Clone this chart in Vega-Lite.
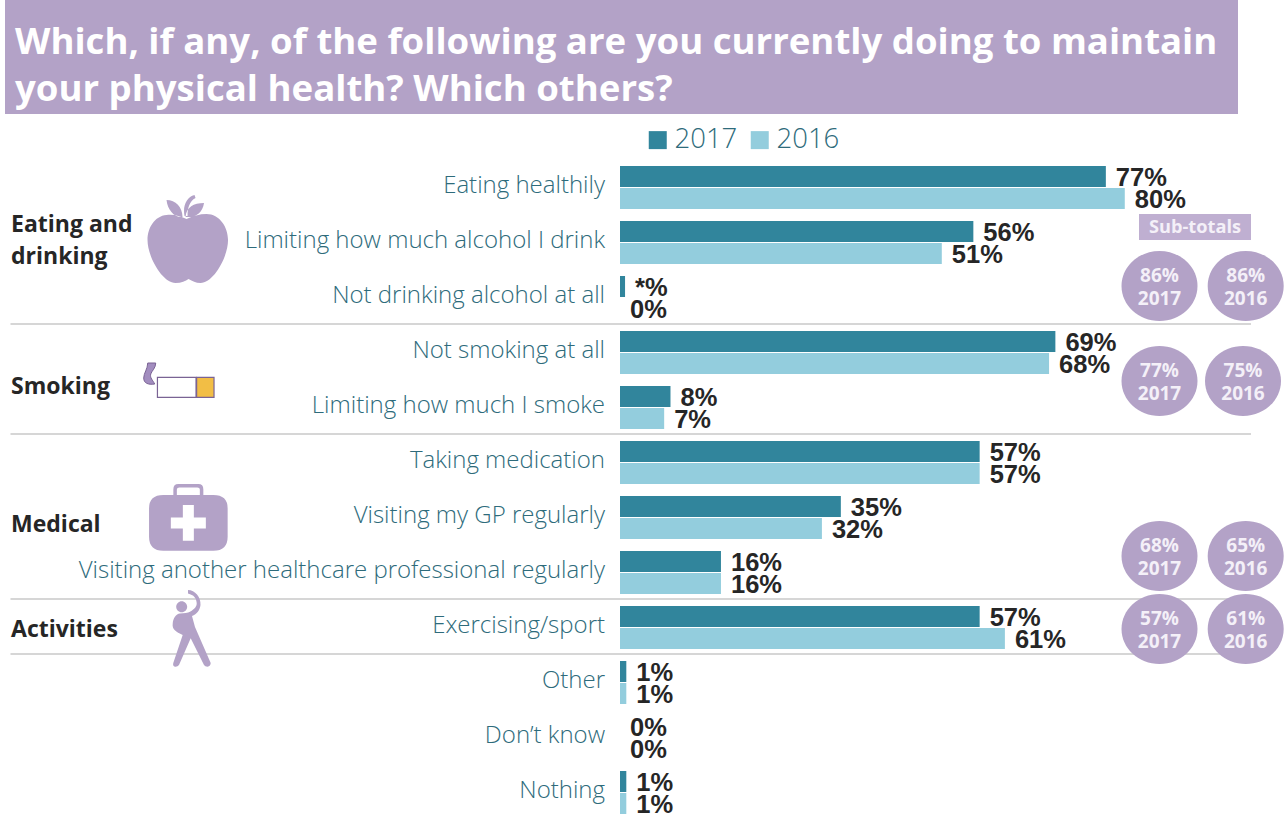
{
"$schema":"https://vega.github.io/schema/vega-lite/v6.json",
"width":1286,"height":817,"padding":0,"autosize":{"type":"none"},"background":"white",
"config":{"view":{"stroke":null},"axis":{"domain":false}},
"datasets":{
"answers":[
{"row":"Eating healthily","year":"2017","value":77,"label":"77%"},
{"row":"Eating healthily","year":"2016","value":80,"label":"80%"},
{"row":"Limiting how much alcohol I drink","year":"2017","value":56,"label":"56%"},
{"row":"Limiting how much alcohol I drink","year":"2016","value":51,"label":"51%"},
{"row":"Not drinking alcohol at all","year":"2017","value":0.8,"label":"*%"},
{"row":"Not drinking alcohol at all","year":"2016","value":0,"label":"0%"},
{"row":"Not smoking at all","year":"2017","value":69,"label":"69%"},
{"row":"Not smoking at all","year":"2016","value":68,"label":"68%"},
{"row":"Limiting how much I smoke","year":"2017","value":8,"label":"8%"},
{"row":"Limiting how much I smoke","year":"2016","value":7,"label":"7%"},
{"row":"Taking medication","year":"2017","value":57,"label":"57%"},
{"row":"Taking medication","year":"2016","value":57,"label":"57%"},
{"row":"Visiting my GP regularly","year":"2017","value":35,"label":"35%"},
{"row":"Visiting my GP regularly","year":"2016","value":32,"label":"32%"},
{"row":"Visiting another healthcare professional regularly","year":"2017","value":16,"label":"16%"},
{"row":"Visiting another healthcare professional regularly","year":"2016","value":16,"label":"16%"},
{"row":"Exercising/sport","year":"2017","value":57,"label":"57%"},
{"row":"Exercising/sport","year":"2016","value":61,"label":"61%"},
{"row":"Other","year":"2017","value":1,"label":"1%"},
{"row":"Other","year":"2016","value":1,"label":"1%"},
{"row":"Don’t know","year":"2017","value":0,"label":"0%"},
{"row":"Don’t know","year":"2016","value":0,"label":"0%"},
{"row":"Nothing","year":"2017","value":1,"label":"1%"},
{"row":"Nothing","year":"2016","value":1,"label":"1%"}
],
"subtotals":[
{"group":"Eating and drinking","year":"2017","pct":"86%"},
{"group":"Eating and drinking","year":"2016","pct":"86%"},
{"group":"Smoking","year":"2017","pct":"77%"},
{"group":"Smoking","year":"2016","pct":"75%"},
{"group":"Medical","year":"2017","pct":"68%"},
{"group":"Medical","year":"2016","pct":"65%"},
{"group":"Activities","year":"2017","pct":"57%"},
{"group":"Activities","year":"2016","pct":"61%"}
]
},
"resolve":{"scale":{"x":"independent","y":"independent"}},
"layer":[
{"data":{"values":[{"block":"banner"}]},"mark":{"type":"rect","fill":"#B3A2C7"},
 "encoding":{
  "x":{"field":"block","type":"nominal","axis":null,"scale":{"type":"band","domain":["banner"],"range":[5,1238],"padding":0}},
  "y":{"field":"block","type":"nominal","axis":null,"scale":{"type":"band","domain":["banner"],"range":[0,114],"padding":0}}}},
{"data":{"values":[{"line":"Which, if any, of the following are you currently doing to maintain"},{"line":"your physical health? Which others?"}]},
 "mark":{"type":"text","align":"left","baseline":"middle","font":"Open Sans","fontWeight":"bold","fontSize":36.6,"fill":"white"},
 "encoding":{
  "x":{"datum":-95.88,"axis":null,"scale":{"domain":[-98.26,105.55],"range":[0,1286],"nice":false,"zero":false}},
  "y":{"field":"line","type":"nominal","axis":null,"sort":null,"scale":{"type":"band","domain":["Which, if any, of the following are you currently doing to maintain","your physical health? Which others?"],"range":[19,113],"padding":0}},
  "text":{"field":"line"}}},
{"encoding":{"x":{"axis":null},"y":{"axis":null}},
 "layer":[
 {"data":{"values":[{"row":"Not smoking at all"},{"row":"Taking medication"},{"row":"Exercising/sport"},{"row":"Other"}]},
  "mark":{"type":"rule","stroke":"#C9C9C9","strokeWidth":1.6,"yOffset":-1},
  "encoding":{
   "x":{"datum":-96.6,"axis":null,"scale":{"domain":[-98.26,105.55],"range":[0,1286],"nice":false,"zero":false}},
   "x2":{"datum":100},
   "y":{"field":"row","type":"nominal","axis":null,"bandPosition":0,"sort":null,"scale":{"type":"band","domain":["Eating healthily","Limiting how much alcohol I drink","Not drinking alcohol at all","Not smoking at all","Limiting how much I smoke","Taking medication","Visiting my GP regularly","Visiting another healthcare professional regularly","Exercising/sport","Other","Don’t know","Nothing"],"range":[160,820],"padding":0}}}},
 {"data":{"name":"answers"},"mark":{"type":"bar"},
  "encoding":{
   "x":{"field":"value","type":"quantitative","axis":null,"stack":null},
   "y":{"field":"row","type":"nominal","axis":null,"sort":null},
   "yOffset":{"field":"year","type":"nominal","sort":null,"scale":{"domain":["2017","2016"],"paddingInner":0.045,"paddingOuter":0.2725}},
   "color":{"field":"year","type":"nominal","scale":{"domain":["2017","2016"],"range":["#31859C","#93CDDD"]},
    "legend":{"title":null,"orient":"none","legendX":644,"legendY":126,"direction":"horizontal","symbolType":"square","symbolSize":324,"symbolStrokeWidth":0,"symbolOpacity":1,"labelFont":"Open Sans","labelFontWeight":300,"labelFontSize":27.5,"labelColor":"#2E6B7B","labelOffset":3,"columnPadding":8,"rowPadding":0,"padding":0}}}},
 {"data":{"name":"answers"},"mark":{"type":"text","align":"left","baseline":"middle","dx":10,"dy":1,"font":"Liberation Sans","fontWeight":"bold","fontSize":25.5,"fill":"#262626"},
  "encoding":{
   "x":{"field":"value","type":"quantitative","axis":null,"stack":null},
   "y":{"field":"row","type":"nominal","axis":null,"sort":null},
   "yOffset":{"field":"year","type":"nominal","sort":null,"scale":{"domain":["2017","2016"],"paddingInner":0.045,"paddingOuter":0.2725}},
   "text":{"field":"label"}}},
 {"data":{"name":"answers"},"transform":[{"filter":{"field":"year","equal":"2017"}}],
  "mark":{"type":"text","align":"right","baseline":"middle","dx":-15,"dy":-2,"font":"Open Sans","fontWeight":300,"fontSize":24,"fill":"#2E6B7B"},
  "encoding":{
   "x":{"datum":0,"axis":null},
   "y":{"field":"row","type":"nominal","axis":null,"sort":null},
   "text":{"field":"row"}}},
 {"data":{"values":[{"group":"Eating and|drinking"}]},"mark":{"type":"text","lineBreak":"|","lineHeight":32,"align":"left","baseline":"middle","font":"Open Sans","fontWeight":"bold","fontSize":23,"fill":"#262626"},
  "encoding":{"x":{"datum":-96.51,"axis":null},"y":{"datum":"Limiting how much alcohol I drink","bandPosition":0.18,"axis":null},"text":{"field":"group"}}},
 {"data":{"values":[{"group":"Smoking"}]},"mark":{"type":"text","align":"left","baseline":"middle","font":"Open Sans","fontWeight":"bold","fontSize":23,"fill":"#262626"},
  "encoding":{"x":{"datum":-96.51,"axis":null},"y":{"datum":"Limiting how much I smoke","bandPosition":0.127,"axis":null},"text":{"field":"group"}}},
 {"data":{"values":[{"group":"Medical"}]},"mark":{"type":"text","align":"left","baseline":"middle","font":"Open Sans","fontWeight":"bold","fontSize":23,"fill":"#262626"},
  "encoding":{"x":{"datum":-96.51,"axis":null},"y":{"datum":"Visiting my GP regularly","bandPosition":0.636,"axis":null},"text":{"field":"group"}}},
 {"data":{"values":[{"group":"Activities"}]},"mark":{"type":"text","align":"left","baseline":"middle","font":"Open Sans","fontWeight":"bold","fontSize":23,"fill":"#262626"},
  "encoding":{"x":{"datum":-96.51,"axis":null},"y":{"datum":"Exercising/sport","bandPosition":0.545,"axis":null},"text":{"field":"group"}}},
 {"data":{"values":[{"icon":"apple"}]},"mark":{"type":"point","filled":true,"opacity":1,"size":4,"fill":"#B3A2C7","strokeWidth":0,"shape":"M-1,-20 C-8,-23 -14,-25 -21,-24 C-33,-23 -40,-11 -40,1 C-40,18 -25,44 -12,44 C-6,44 -2,42 1,40 C5,42 8,44 13,44 C26,44 40.5,18 40.5,1 C40.5,-12 32,-25 19,-25 C12,-25 5,-23 -1,-20 Z M-21,-39 C-12,-39 -5,-32 -5,-22 C-13,-21 -20,-29 -21,-39 Z M16.5,-36 C6,-36 -1,-32 -2,-22 C8,-21 15,-26 16.5,-36 Z M-3,-23 C-5,-33 -1,-42 7,-44 L8,-41 C2,-38 0,-31 0,-23 Z"},
  "encoding":{"x":{"datum":-68.54,"axis":null},"y":{"datum":"Limiting how much alcohol I drink","bandPosition":0.436,"axis":null}}},
 {"data":{"values":[{"icon":"smoke"}]},"mark":{"type":"point","filled":true,"opacity":1,"size":4,"fill":"#A28DBF","stroke":"#7A6394","strokeWidth":1,"shape":"M6,-11 L-2,-11 C-2,-5 -6,-1 -6,4 C-6,9 -2,11 5,10 C3,6 0,4 1,0 C2,-3 6,-6 6,-11 Z"},
  "encoding":{"x":{"datum":-74.53,"axis":null},"y":{"datum":"Not smoking at all","bandPosition":0.891,"axis":null}}},
 {"data":{"values":[{"icon":"cigarette"}]},"mark":{"type":"point","filled":true,"opacity":1,"size":4,"fill":"#FFFFFF","stroke":"#7A6394","strokeWidth":1.2,"shape":"M-19.3,-10 L19.3,-10 L19.3,10 L-19.3,10 Z"},
  "encoding":{"x":{"datum":-70.25,"axis":null},"y":{"datum":"Limiting how much I smoke","bandPosition":0.133,"axis":null}}},
 {"data":{"values":[{"icon":"filter"}]},"mark":{"type":"point","filled":true,"opacity":1,"size":4,"fill":"#F2BE45","stroke":"#7A6394","strokeWidth":1.2,"shape":"M-8.7,-10 L8.7,-10 L8.7,10 L-8.7,10 Z"},
  "encoding":{"x":{"datum":-65.72,"axis":null},"y":{"datum":"Limiting how much I smoke","bandPosition":0.133,"axis":null}}},
 {"data":{"values":[{"icon":"kit"}]},"mark":{"type":"point","filled":true,"opacity":1,"size":4,"fill":"#B3A2C7","strokeWidth":0,"shape":"M-25,-22.4 L25,-22.4 Q39.3,-22.4 39.3,-9 L39.3,19.3 Q39.3,33.3 25,33.3 L-25,33.3 Q-39.3,33.3 -39.3,19.3 L-39.3,-9 Q-39.3,-22.4 -25,-22.4 Z M-15,-22.4 L-15,-28 Q-15,-33.4 -10,-33.4 L10,-33.4 Q15,-33.4 15,-28 L15,-22.4 L11.5,-22.4 L11.5,-28 Q11.5,-30 9,-30 L-9,-30 Q-11.5,-30 -11.5,-28 L-11.5,-22.4 Z"},
  "encoding":{"x":{"datum":-68.41,"axis":null},"y":{"datum":"Visiting my GP regularly","bandPosition":0.498,"axis":null}}},
 {"data":{"values":[{"icon":"cross"}]},"mark":{"type":"point","filled":true,"opacity":1,"size":4,"fill":"#FFFFFF","strokeWidth":0,"shape":"M-5.5,-17.8 L5.5,-17.8 L5.5,-5.5 L17.5,-5.5 L17.5,5.5 L5.5,5.5 L5.5,17.8 L-5.5,17.8 L-5.5,5.5 L-17.5,5.5 L-17.5,-5.5 L-5.5,-5.5 Z"},
  "encoding":{"x":{"datum":-68.41,"axis":null},"y":{"datum":"Visiting my GP regularly","bandPosition":0.598,"axis":null}}},
 {"data":{"values":[{"icon":"person"}]},"mark":{"type":"point","filled":true,"opacity":1,"size":4,"fill":"#B3A2C7","strokeWidth":0,"shape":"M-2,-38 C5,-38 11,-31 10.5,-23 C10,-18 7,-14 2,-12 L5,-1 L20.7,35 Q20.7,38 17.5,38.7 Q15,38.7 14,37 L0.7,10.3 L-11,37 Q-12.5,39 -15,38.7 Q-17.5,38 -16.7,35 L-7.3,7 C-14,4 -18,1 -17.3,-4 C-17,-10 -14,-14 -10,-14.5 C-6,-15 -2,-15 0,-16.3 C5,-19 7,-22 6.7,-25 C6.3,-30 4,-33 -2,-34.5 Z M-13.8,-21.3 C-13.8,-24.3 -11.3,-26.8 -8.3,-26.8 C-5.3,-26.8 -2.8,-24.3 -2.8,-21.3 C-2.8,-18.3 -5.3,-15.8 -8.3,-15.8 C-11.3,-15.8 -13.8,-18.3 -13.8,-21.3 Z"},
  "encoding":{"x":{"datum":-68.15,"axis":null},"y":{"datum":"Exercising/sport","bandPosition":0.509,"axis":null}}}
 ]},
{"data":{"values":[{"block":"Sub-totals"}]},
 "encoding":{
  "x":{"field":"block","type":"nominal","axis":null,"scale":{"type":"band","domain":["Sub-totals"],"range":[1139,1251],"padding":0}},
  "y":{"field":"block","type":"nominal","axis":null,"scale":{"type":"band","domain":["Sub-totals"],"range":[214,240],"padding":0}}},
 "layer":[
  {"mark":{"type":"rect","fill":"#BFAFD1"}},
  {"mark":{"type":"text","dy":1,"font":"Open Sans","fontWeight":"bold","fontSize":18.2,"fill":"#F4F0F8","baseline":"middle"},"encoding":{"text":{"field":"block"}}}
 ]},
{"data":{"name":"subtotals"},"transform":[{"filter":{"field":"group","equal":"Eating and drinking"}}],
 "encoding":{
  "x":{"field":"year","type":"nominal","axis":null,"sort":null,"scale":{"type":"point","domain":["2017","2016"],"range":[1159.5,1245.7],"padding":0}},
  "y":{"field":"group","type":"nominal","axis":null,"scale":{"type":"band","domain":["Eating and drinking"],"range":[251,321],"padding":0}}},
 "layer":[
  {"mark":{"type":"point","filled":true,"opacity":1,"size":4,"fill":"#B3A2C7","strokeWidth":0,"shape":"M-38,0 C-38,-19.3 -21,-35 0,-35 C21,-35 38,-19.3 38,0 C38,19.3 21,35 0,35 C-21,35 -38,19.3 -38,0 Z"}},
  {"mark":{"type":"text","dy":-10,"font":"Open Sans","fontWeight":"bold","fontSize":19,"fill":"#F4F0F8","baseline":"middle"},"encoding":{"text":{"field":"pct"}}},
  {"mark":{"type":"text","dy":13,"font":"Open Sans","fontWeight":"bold","fontSize":19,"fill":"#F4F0F8","baseline":"middle"},"encoding":{"text":{"field":"year"}}}
 ]},
{"data":{"name":"subtotals"},"transform":[{"filter":{"field":"group","equal":"Smoking"}}],
 "encoding":{
  "x":{"field":"year","type":"nominal","axis":null,"sort":null,"scale":{"type":"point","domain":["2017","2016"],"range":[1159.5,1243],"padding":0}},
  "y":{"field":"group","type":"nominal","axis":null,"scale":{"type":"band","domain":["Smoking"],"range":[346,416],"padding":0}}},
 "layer":[
  {"mark":{"type":"point","filled":true,"opacity":1,"size":4,"fill":"#B3A2C7","strokeWidth":0,"shape":"M-38,0 C-38,-19.3 -21,-35 0,-35 C21,-35 38,-19.3 38,0 C38,19.3 21,35 0,35 C-21,35 -38,19.3 -38,0 Z"}},
  {"mark":{"type":"text","dy":-10,"font":"Open Sans","fontWeight":"bold","fontSize":19,"fill":"#F4F0F8","baseline":"middle"},"encoding":{"text":{"field":"pct"}}},
  {"mark":{"type":"text","dy":13,"font":"Open Sans","fontWeight":"bold","fontSize":19,"fill":"#F4F0F8","baseline":"middle"},"encoding":{"text":{"field":"year"}}}
 ]},
{"data":{"name":"subtotals"},"transform":[{"filter":{"field":"group","equal":"Medical"}}],
 "encoding":{
  "x":{"field":"year","type":"nominal","axis":null,"sort":null,"scale":{"type":"point","domain":["2017","2016"],"range":[1159.5,1245.7],"padding":0}},
  "y":{"field":"group","type":"nominal","axis":null,"scale":{"type":"band","domain":["Medical"],"range":[521,591],"padding":0}}},
 "layer":[
  {"mark":{"type":"point","filled":true,"opacity":1,"size":4,"fill":"#B3A2C7","strokeWidth":0,"shape":"M-38,0 C-38,-19.3 -21,-35 0,-35 C21,-35 38,-19.3 38,0 C38,19.3 21,35 0,35 C-21,35 -38,19.3 -38,0 Z"}},
  {"mark":{"type":"text","dy":-10,"font":"Open Sans","fontWeight":"bold","fontSize":19,"fill":"#F4F0F8","baseline":"middle"},"encoding":{"text":{"field":"pct"}}},
  {"mark":{"type":"text","dy":13,"font":"Open Sans","fontWeight":"bold","fontSize":19,"fill":"#F4F0F8","baseline":"middle"},"encoding":{"text":{"field":"year"}}}
 ]},
{"data":{"name":"subtotals"},"transform":[{"filter":{"field":"group","equal":"Activities"}}],
 "encoding":{
  "x":{"field":"year","type":"nominal","axis":null,"sort":null,"scale":{"type":"point","domain":["2017","2016"],"range":[1159.5,1245.7],"padding":0}},
  "y":{"field":"group","type":"nominal","axis":null,"scale":{"type":"band","domain":["Activities"],"range":[594,664],"padding":0}}},
 "layer":[
  {"mark":{"type":"point","filled":true,"opacity":1,"size":4,"fill":"#B3A2C7","strokeWidth":0,"shape":"M-38,0 C-38,-19.3 -21,-35 0,-35 C21,-35 38,-19.3 38,0 C38,19.3 21,35 0,35 C-21,35 -38,19.3 -38,0 Z"}},
  {"mark":{"type":"text","dy":-10,"font":"Open Sans","fontWeight":"bold","fontSize":19,"fill":"#F4F0F8","baseline":"middle"},"encoding":{"text":{"field":"pct"}}},
  {"mark":{"type":"text","dy":13,"font":"Open Sans","fontWeight":"bold","fontSize":19,"fill":"#F4F0F8","baseline":"middle"},"encoding":{"text":{"field":"year"}}}
 ]}
]
}
